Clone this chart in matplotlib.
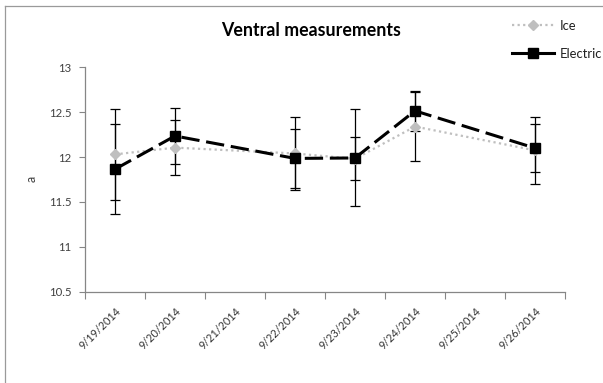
import matplotlib
matplotlib.use("Agg")
import matplotlib.pyplot as plt
from matplotlib.lines import Line2D
import numpy as np

plt.rcParams['font.family'] = ['Lato', 'DejaVu Sans']

# Category axis (dates)
dates = ["9/19/2014", "9/20/2014", "9/21/2014", "9/22/2014",
         "9/23/2014", "9/24/2014", "9/25/2014", "9/26/2014"]

# Measured dates
obs_dates = ["9/19/2014", "9/20/2014", "9/22/2014", "9/23/2014", "9/24/2014", "9/26/2014"]

ice_values = [12.03, 12.105, 12.04, 11.98, 12.34, 12.075]
ice_err = [0.51, 0.305, 0.41, 0.24, 0.38, 0.375]

electric_values = [11.865, 12.235, 11.985, 11.99, 12.515, 12.10]
electric_err = [0.50, 0.31, 0.325, 0.54, 0.22, 0.27]

title = "Ventral measurements"
ylabel = "a"
yticks = [10.5, 11, 11.5, 12, 12.5, 13]

W, H = 603, 383
fig = plt.figure(figsize=(W / 100, H / 100), dpi=100)
ax = fig.add_axes([85 / W, 1 - 291.7 / H, (565 - 85) / W, (291.7 - 67.3) / H])

x = np.array([dates.index(d) for d in obs_dates], dtype=float)

axis_col = "#868686"
ice_col = "#BFBFBF"

# error bars
ax.errorbar(x, ice_values, yerr=ice_err, fmt="none", ecolor="black",
            elinewidth=0.9, capsize=3.3, capthick=0.9, zorder=2)
ax.errorbar(x, electric_values, yerr=electric_err, fmt="none", ecolor="black",
            elinewidth=0.9, capsize=3.3, capthick=0.9, zorder=2)

ax.plot(x, ice_values, linestyle=(0, (1, 1.5)), linewidth=1.6, color=ice_col,
        marker="D", markersize=5, markerfacecolor=ice_col, markeredgecolor=ice_col,
        zorder=3)
ax.plot(x, electric_values, linestyle=(0, (6, 2.2)), linewidth=2.2, color="black",
        marker="s", markersize=7, markerfacecolor="black", markeredgecolor="black",
        zorder=4)

ax.set_xlim(-0.5, len(dates) - 0.5)
ax.set_ylim(yticks[0], yticks[-1])
ax.set_yticks(yticks)
ax.set_yticklabels([f"{v:g}" for v in yticks], fontsize=8.2, color="#404040")

# major ticks at category boundaries, labels at centers (minor)
ax.set_xticks(np.arange(-0.5, len(dates), 1.0))
ax.set_xticklabels([])
ax.set_xticks(np.arange(len(dates)), minor=True)
ax.set_xticklabels(dates, minor=True, rotation=45, ha="right", va="top",
                   rotation_mode="anchor", fontsize=7.8, color="#333333")
ax.tick_params(axis="x", which="major", direction="out", length=5, width=0.8, color=axis_col)
ax.tick_params(axis="x", which="minor", length=0, pad=10)
ax.tick_params(axis="y", direction="out", length=4, width=0.8, color=axis_col, pad=6)

for s in ["top", "right"]:
    ax.spines[s].set_visible(False)
for s in ["left", "bottom"]:
    ax.spines[s].set_color(axis_col)
    ax.spines[s].set_linewidth(0.9)

fig.text(32 / W, 1 - 179 / H, ylabel, rotation=90, fontsize=9, color="#404040",
         ha="center", va="center")
fig.text(311 / W, 1 - 31 / H, title, fontsize=12.8, fontweight="bold", color="black",
         ha="center", va="center")

handles = [
    Line2D([], [], linestyle=(0, (1, 1.5)), linewidth=1.6, color=ice_col, marker="D",
           markersize=5, markerfacecolor=ice_col, markeredgecolor=ice_col),
    Line2D([], [], linestyle="-", linewidth=2.2, color="black", marker="s",
           markersize=7, markerfacecolor="black", markeredgecolor="black"),
]
fig.legend(handles, ["Ice", "Electric"], loc="upper left",
           bbox_to_anchor=(512 / W, 1 - 20 / H), frameon=False, fontsize=9.4,
           handlelength=3.2, handletextpad=0.45, labelspacing=1.22,
           borderpad=0, borderaxespad=0, labelcolor="#202020")

# chart border
border_col = "#9A9A9A"
fig.add_artist(Line2D([5 / W, 1.0], [1 - 6 / H, 1 - 6 / H], transform=fig.transFigure,
                      color=border_col, linewidth=0.9))
fig.add_artist(Line2D([5 / W, 5 / W], [1 - 6 / H, 0.0], transform=fig.transFigure,
                      color=border_col, linewidth=0.9))

fig.savefig("out.png", dpi=100, facecolor="white")
